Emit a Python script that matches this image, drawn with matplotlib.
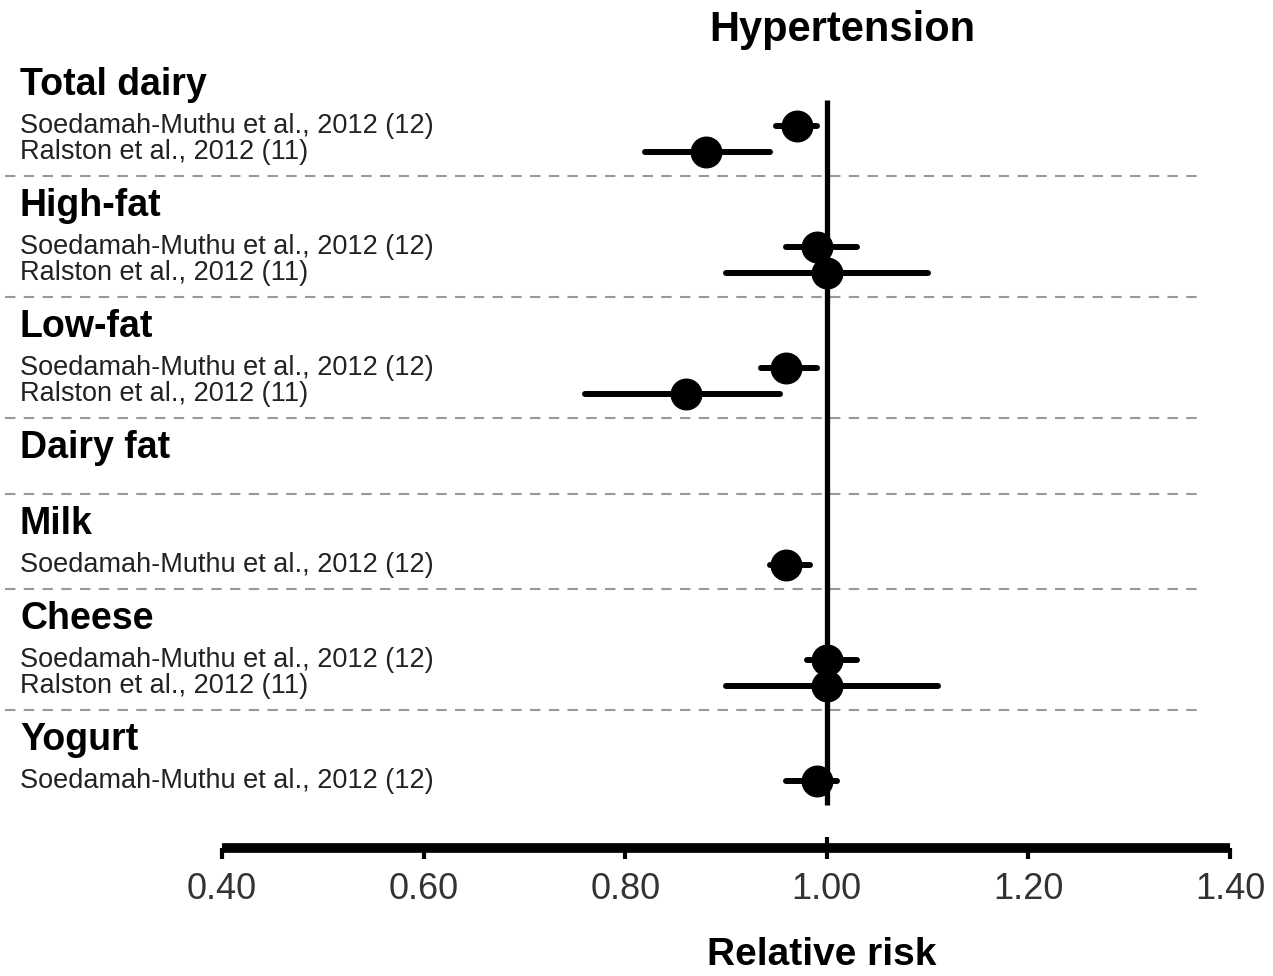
import matplotlib.pyplot as plt

# forest plot data (relative risk with 95% CI)
groups = ["Total dairy", "High-fat", "Low-fat", "Dairy fat", "Milk", "Cheese", "Yogurt"]
soedamah = "Soedamah-Muthu et al., 2012 (12)"
ralston = "Ralston et al., 2012 (11)"
studies = [[soedamah, ralston], [soedamah, ralston], [soedamah, ralston], [],
           [soedamah], [soedamah, ralston], [soedamah]]
rr = [[0.97, 0.88], [0.99, 1.00], [0.96, 0.86], [], [0.96], [1.00, 1.00], [0.99]]
lo = [[0.95, 0.82], [0.96, 0.90], [0.935, 0.76], [], [0.944], [0.98, 0.90], [0.96]]
hi = [[0.99, 0.944], [1.03, 1.10], [0.99, 0.954], [], [0.983], [1.03, 1.11], [1.01]]
ticks = [0.40, 0.60, 0.80, 1.00, 1.20, 1.40]
tick_labels = ["0.40", "0.60", "0.80", "1.00", "1.20", "1.40"]

W, H = 1273, 976
fig = plt.figure(figsize=(W / 100, H / 100), dpi=100)
ax = fig.add_axes([0, 0, 1, 1])

# x in relative-risk units, y in pixel rows
px = 1008.0
x0 = 0.40 - 222 / px
ax.set_xlim(x0, x0 + W / px)
ax.set_ylim(H, 0)

label_x = x0 + 20 / px
dash_x0 = x0 + 5 / px
dash_x1 = x0 + 1200 / px
sans = ["Liberation Sans", "DejaVu Sans"]

y = 85
for gi, g in enumerate(groups):
    ax.text(label_x, y, g, fontsize=27, fontweight="bold", family=sans,
            va="center", ha="left")
    if studies[gi]:
        ry = y + 41
        for si, s in enumerate(studies[gi]):
            ax.text(label_x, ry, s, fontsize=19.5, family=sans, color="#222222",
                    va="center", ha="left")
            lc = ax.hlines(ry, lo[gi][si], hi[gi][si], color="black", lw=4.3, zorder=3)
            lc.set_capstyle("round")
            ax.plot(rr[gi][si], ry, "o", ms=22, color="black", zorder=4)
            last = ry
            ry += 26
        dash_y = last + 24
    else:
        dash_y = y + 46
    if gi < len(groups) - 1:
        ax.plot([dash_x0, dash_x1], [dash_y, dash_y], color="#999999", lw=1.5,
                dashes=(5, 4), zorder=1)
        y = dash_y + 30

# reference line at RR = 1
axis_y = 848
ax.vlines(1.0, 100, 805, color="black", lw=3.8, zorder=2)
ax.vlines(1.0, 837, axis_y, color="black", lw=3, zorder=2)

# bottom axis
for side in ["top", "left", "right"]:
    ax.spines[side].set_visible(False)
ax.spines["bottom"].set_position(("data", axis_y))
ax.spines["bottom"].set_bounds(0.40, 1.40)
ax.spines["bottom"].set_linewidth(7)
ax.spines["bottom"].set_capstyle("butt")
ax.set_yticks([])
ax.set_xticks(ticks)
ax.set_xticklabels(tick_labels, family=sans, fontsize=26, color="#333333")
ax.tick_params(axis="x", direction="out", length=8, width=3, pad=9)

ax.text(0.995, 955, "Relative risk", fontsize=28, fontweight="bold", family=sans,
        ha="center", va="center")
ax.text(1.015, 30, "Hypertension", fontsize=30, fontweight="bold", family=sans,
        ha="center", va="center")

fig.savefig("out.png", dpi=100)
